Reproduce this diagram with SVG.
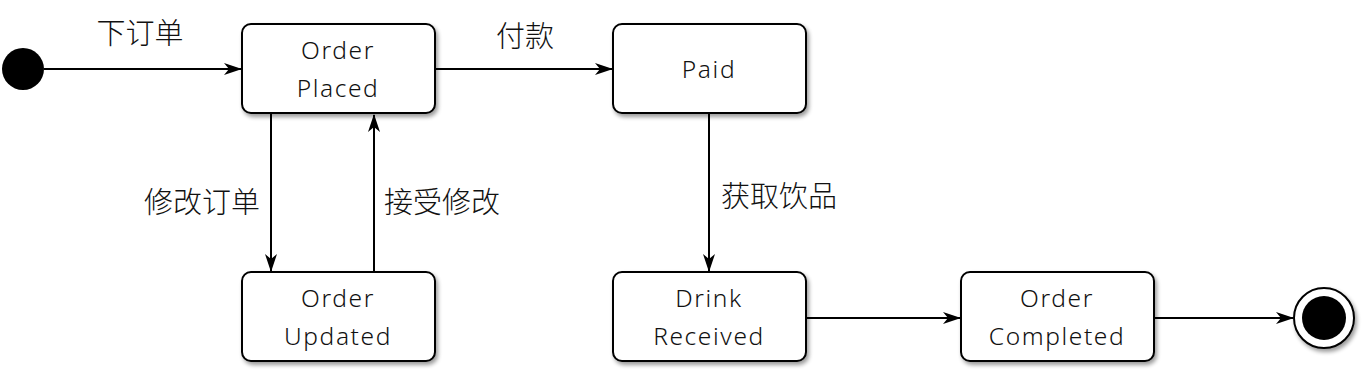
<svg xmlns="http://www.w3.org/2000/svg" width="1362" height="374" viewBox="0 0 1362 374">
<style>
.box{fill:#fff;stroke:#000;stroke-width:2;filter:url(#sh)}
.lbl{font-family:"Noto Sans","Open Sans",sans-serif;font-size:24.5px;font-weight:300;letter-spacing:1.6px;fill:#111;text-anchor:middle}
.cn{font-family:"Noto Sans CJK SC",sans-serif;font-size:29px;font-weight:300;fill:#111;text-anchor:middle}
.edge{stroke:#000;stroke-width:2;fill:none;marker-end:url(#ah)}
</style>
<defs>
<filter id="sh" x="-10%" y="-10%" width="130%" height="140%">
<feGaussianBlur in="SourceAlpha" stdDeviation="2"/>
<feOffset dx="2" dy="3" result="o"/>
<feComponentTransfer><feFuncA type="linear" slope="0.4"/></feComponentTransfer>
<feMerge><feMergeNode/><feMergeNode in="SourceGraphic"/></feMerge>
</filter>
<marker id="ah" viewBox="0 0 18 14" refX="17" refY="7" markerWidth="18" markerHeight="14" markerUnits="userSpaceOnUse" orient="auto">
<path d="M0,1 L18,7 L0,13 L5,7 Z" fill="#000"/>
</marker>
</defs>
<g id="connectors">
<path class="edge" d="M44,69 H241"/>
<path class="edge" d="M435,69 H612"/>
<path class="edge" d="M271,113 V271"/>
<path class="edge" d="M374,272 V115"/>
<path class="edge" d="M709,113 V271"/>
<path class="edge" d="M806,318 H960"/>
<path class="edge" d="M1154,318 H1293"/>
<text class="cn" x="140" y="44">下订单</text>
<text class="cn" x="525" y="47">付款</text>
<text class="cn" x="202" y="213">修改订单</text>
<text class="cn" x="442" y="213">接受修改</text>
<text class="cn" x="779" y="207">获取饮品</text>
</g>
<g id="start"><circle cx="23" cy="69" r="21" fill="#000"/></g>
<g id="placed"><rect class="box" x="242" y="24" width="193" height="89" rx="9"/><text class="lbl" x="338" y="59">Order</text><text class="lbl" x="338" y="97">Placed</text></g>
<g id="paid"><rect class="box" x="613" y="24" width="193" height="89" rx="9"/><text class="lbl" x="709" y="78">Paid</text></g>
<g id="updated"><rect class="box" x="242" y="272" width="193" height="89" rx="9"/><text class="lbl" x="338" y="307">Order</text><text class="lbl" x="338" y="345">Updated</text></g>
<g id="received"><rect class="box" x="613" y="272" width="193" height="89" rx="9"/><text class="lbl" x="709" y="307">Drink</text><text class="lbl" x="709" y="345">Received</text></g>
<g id="completed"><rect class="box" x="961" y="272" width="193" height="89" rx="9"/><text class="lbl" x="1057" y="307">Order</text><text class="lbl" x="1057" y="345">Completed</text></g>
<g id="end"><circle cx="1324" cy="318" r="30" fill="#fff" stroke="#000" stroke-width="2" filter="url(#sh)"/><circle cx="1324" cy="318" r="22" fill="#000"/></g>
</svg>
